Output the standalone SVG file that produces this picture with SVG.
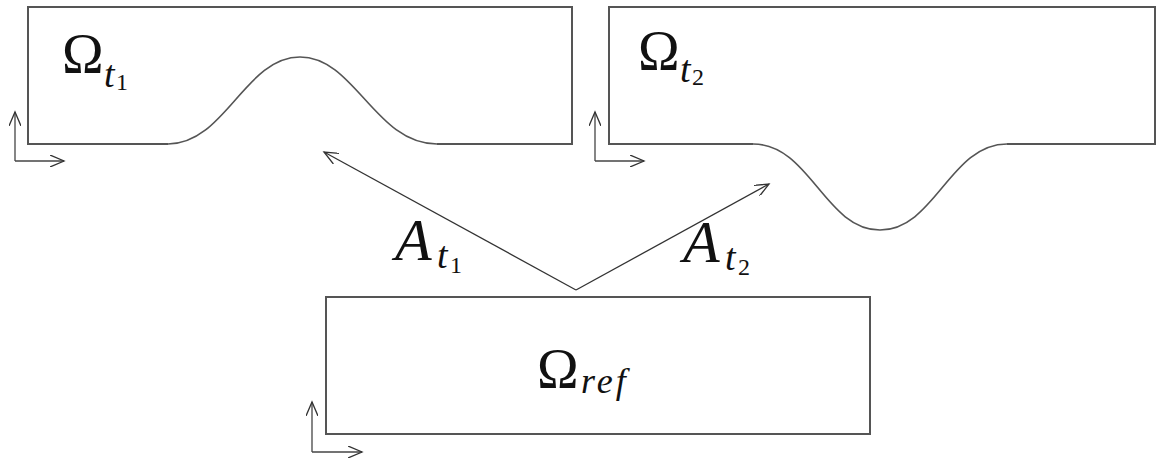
<svg xmlns="http://www.w3.org/2000/svg" width="1160" height="463" viewBox="0 0 1160 463">
<defs>
<marker id="ah" markerWidth="16" markerHeight="12" refX="14" refY="6" orient="auto" markerUnits="userSpaceOnUse">
<path d="M0,0 L14,6 L0,12" fill="none" stroke="#333" stroke-width="1.3"/>
</marker>
<style>
.box{fill:none;stroke:#555;stroke-width:2}
.curve{fill:none;stroke:#555;stroke-width:1.6}
.ax{fill:none;stroke:#444;stroke-width:1.3;marker-end:url(#ah)}
.arr{fill:none;stroke:#333;stroke-width:1.3;marker-end:url(#ah)}
.om{font-family:"Liberation Serif",serif;font-size:56px;fill:#111}
.sub{font-family:"Liberation Serif",serif;font-style:italic;font-size:38px;fill:#111}
.num{font-family:"Liberation Serif",serif;font-size:24px;fill:#111}
.ref{font-family:"Liberation Serif",serif;font-style:italic;font-size:36px;letter-spacing:3px;fill:#111}
.cal{font-family:"Liberation Serif",serif;font-style:italic;font-size:60px;fill:#111}
</style>
</defs>
<rect width="1160" height="463" fill="#fff"/>
<g id="omega-t1">
<path class="box" d="M168,144 L28,144 L28,7 L572,7 L572,144 L437,144"/>
<path class="curve" d="M168,144 C225,144 245,57 300,57 C355,57 375,144 437,144"/>
<path class="ax" d="M15,161 L15,112"/>
<path class="ax" d="M15,161 L64,161"/>
<text class="om" x="62" y="73">Ω</text>
<text class="sub" x="104" y="87">t</text>
<text class="num" x="116" y="90">1</text>
</g>
<g id="omega-t2">
<path class="box" d="M753,144 L609,144 L609,7 L1155,7 L1155,144 L1007,144"/>
<path class="curve" d="M753,144 C810,144 825,230 880,230 C935,230 950,144 1007,144"/>
<path class="ax" d="M595,161 L595,112"/>
<path class="ax" d="M595,161 L644,161"/>
<text class="om" x="638" y="70">Ω</text>
<text class="sub" x="680" y="82">t</text>
<text class="num" x="692" y="85">2</text>
</g>
<g id="omega-ref">
<rect class="box" x="326" y="297" width="544" height="137"/>
<path class="ax" d="M312,452 L312,402"/>
<path class="ax" d="M312,452 L362,452"/>
<text class="om" x="537" y="388">Ω</text>
<text class="ref" x="581" y="393">ref</text>
</g>
<g id="connectors">
<path class="arr" d="M576,290 L324,152"/>
<path class="arr" d="M576,290 L769,184"/>
<text class="cal" x="395" y="260">A</text>
<text class="sub" x="437" y="268">t</text>
<text class="num" x="450" y="273">1</text>
<text class="cal" x="683" y="262">A</text>
<text class="sub" x="725" y="270">t</text>
<text class="num" x="738" y="275">2</text>
</g>
</svg>
